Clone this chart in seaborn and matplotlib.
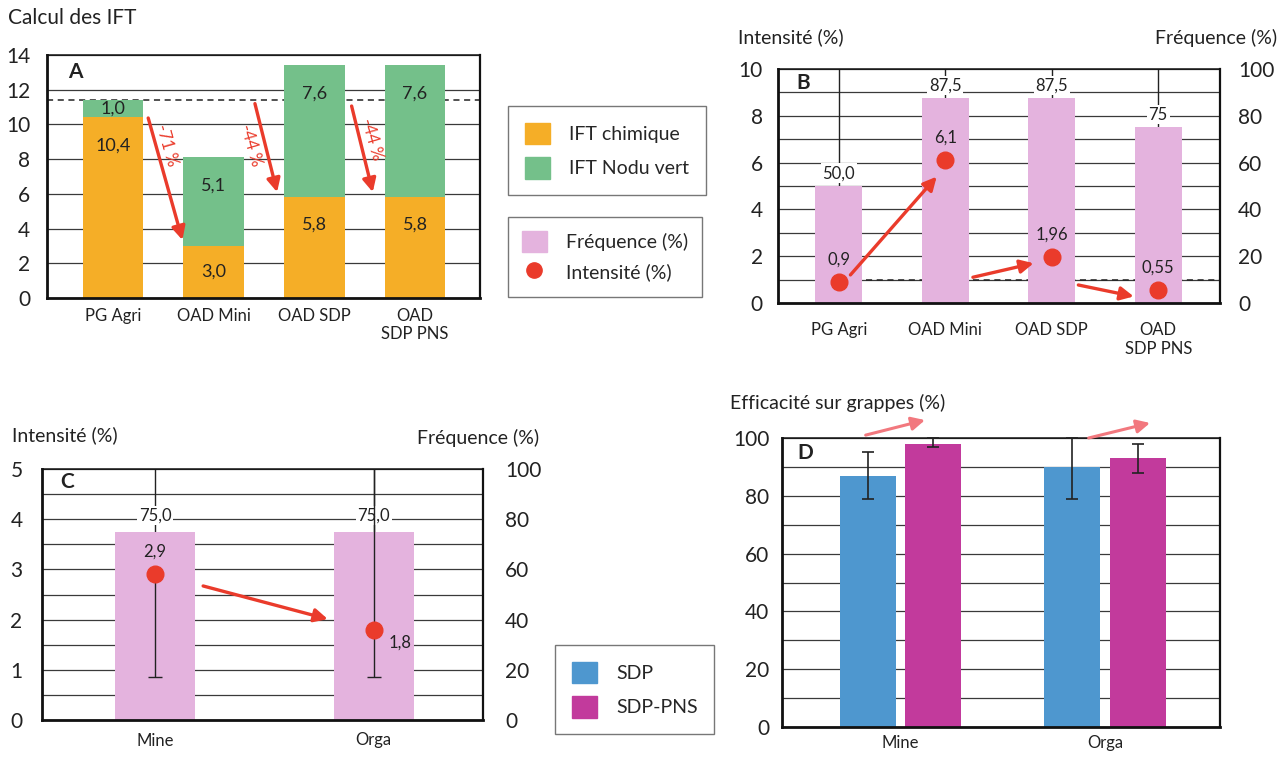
import numpy as np
import pandas as pd
import matplotlib
matplotlib.use('Agg')
import matplotlib.pyplot as plt
from matplotlib.patches import Patch
from matplotlib.lines import Line2D
import seaborn as sns

# ---- data ----
# A: calcul des IFT
a_cats = ['PG Agri', 'OAD Mini', 'OAD SDP', 'OAD\nSDP PNS']
a_chimique = [10.4, 3.0, 5.8, 5.8]
a_nodu = [1.0, 5.1, 7.6, 7.6]
a_ref = 11.4
a_drops = ['-71 %', '-44 %', '-44 %']

# B: frequence / intensite par OAD
b_cats = a_cats
b_freq = [50.0, 87.5, 87.5, 75.0]
b_freq_labels = ['50,0', '87,5', '87,5', '75']
b_freq_hi = [100, 100, 100, 100]
b_int = [0.9, 6.1, 1.96, 0.55]
b_int_labels = ['0,9', '6,1', '1,96', '0,55']
b_ref = 1.0

# C: Mine / Orga
c_cats = ['Mine', 'Orga']
c_freq = [75.0, 75.0]
c_freq_labels = ['75,0', '75,0']
c_int = [2.9, 1.8]
c_int_labels = ['2,9', '1,8']
c_int_lo = [0.85, 0.85]
c_int_hi = [5.0, 5.0]

# D: efficacite sur grappes
d_cats = ['Mine', 'Orga']
d_series = ['SDP', 'SDP-PNS']
d_sdp = [87, 90]
d_pns = [98, 93]
d_sdp_lo = [79, 79]
d_sdp_hi = [95, 100]
d_pns_lo = [97, 88]
d_pns_hi = [100, 98]

ORANGE = '#F5AE27'
GREEN = '#74C08A'
PINK = '#E4B3DE'
RED = '#EA3B2B'
BLUE = '#4E97CF'
MAGENTA = '#C23A9C'
SOFTRED = '#F2787E'
GRID = '#3a3a3a'
INK = '#222222'

sns.set_theme(style='white')
plt.rcParams['font.family'] = ['Lato', 'DejaVu Sans']

W, H = 1288, 758
fig = plt.figure(figsize=(W / 100, H / 100), dpi=100)
fig.patch.set_facecolor('white')


def pos(l, t, r, b):
    return [l / W, 1 - b / H, (r - l) / W, (b - t) / H]


def style_box(ax):
    for s in ax.spines.values():
        s.set_visible(True)
        s.set_color('#111111')
    ax.spines['left'].set_linewidth(2.0)
    ax.spines['bottom'].set_linewidth(2.0)
    ax.spines['top'].set_linewidth(1.1)
    ax.spines['right'].set_linewidth(1.6)
    ax.tick_params(length=0, colors=INK)
    ax.set_xlabel('')
    ax.set_ylabel('')


def arrow(ax, start, end, color=RED, lw=2.4):
    ax.annotate('', xy=end, xytext=start, annotation_clip=False,
                arrowprops=dict(arrowstyle='-|>', color=color, lw=lw,
                                mutation_scale=20, shrinkA=0, shrinkB=0))


def vline_label(ax, x, y, s, size=12):
    ax.text(x, y, s, ha='center', va='center', fontsize=size, color=INK, zorder=5,
            bbox=dict(facecolor='white', edgecolor='none', pad=1.2))


def dual_axes(ax, right_pad, left_pad):
    # bars stay on ax (right scale), intensity goes on a twin drawn on top (left scale)
    axi = ax.twinx()
    ax.yaxis.tick_right()
    axi.yaxis.tick_left()
    ax.tick_params(axis='y', which='both', labelsize=15, pad=right_pad, length=0,
                   labelleft=False, labelright=True, colors=INK)
    axi.tick_params(axis='y', length=0, labelsize=15, pad=left_pad, colors=INK,
                    labelleft=True, labelright=False)
    for s in axi.spines.values():
        s.set_visible(False)
    axi.grid(False)
    return axi


# ---------- A ----------
axA = fig.add_axes(pos(47, 55, 480, 298))
a_total = [c + n for c, n in zip(a_chimique, a_nodu)]
sns.barplot(x=a_cats, y=a_total, color=GREEN, saturation=1, width=0.6, linewidth=0, ax=axA)
sns.barplot(x=a_cats, y=a_chimique, color=ORANGE, saturation=1, width=0.6, linewidth=0, ax=axA)
axA.set_xlim(-0.655, 3.645)
axA.set_ylim(0, 14)
axA.set_yticks(range(0, 15, 2))
axA.grid(axis='y', color=GRID, lw=0.9)
axA.set_axisbelow(True)
axA.axhline(a_ref, ls=(0, (4, 3)), color=INK, lw=1.1, zorder=0.8)
style_box(axA)
axA.tick_params(axis='y', labelsize=15, pad=12)
axA.tick_params(axis='x', labelsize=12, pad=7)
for i in range(len(a_cats)):
    for base, seg in [(0, a_chimique[i]), (a_chimique[i], a_nodu[i])]:
        y = base + seg - min(1.6, seg / 2)
        axA.text(i, y, f'{seg:.1f}'.replace('.', ','), ha='center', va='center',
                 fontsize=13, color=INK)
axA.text(0.065, 0.93, 'A', transform=axA.transAxes, fontsize=15, fontweight='bold',
         ha='center', va='center', color=INK)
a_arrows = [((0.35, 10.37), (0.69, 3.34)), ((1.41, 11.2), (1.63, 6.1)), ((2.37, 11.06), (2.58, 6.1))]
a_txt = [(0.53, 8.8), (1.37, 8.8), (2.57, 9.15)]
for (s, e), (tx, ty), lab in zip(a_arrows, a_txt, a_drops):
    arrow(axA, s, e)
    axA.text(tx, ty, lab, rotation=-74, ha='center', va='center', fontsize=12, color=RED)
fig.text(8 / W, 1 - 18 / H, 'Calcul des IFT', fontsize=15, color=INK, ha='left', va='center')

# ---------- B ----------
axB = fig.add_axes(pos(778, 69, 1220, 303))
sns.barplot(x=b_cats, y=b_freq, color=PINK, saturation=1, width=0.44, linewidth=0, ax=axB)
axB.set_xlim(-0.57, 3.58)
axB.set_ylim(0, 100)
axB.set_yticks(range(0, 101, 20))
axB.set_yticks(range(10, 100, 20), minor=True)
axB.grid(axis='y', which='both', color=GRID, lw=0.9)
axB.set_axisbelow(True)
axB.axhline(b_ref * 10, xmin=0.2, ls=(0, (4, 3)), color=INK, lw=1.1, zorder=0.8)
for i in range(len(b_cats)):
    axB.vlines(i, b_freq[i], b_freq_hi[i], color=INK, lw=1.0, zorder=0.9)
    vline_label(axB, i, b_freq[i] + 5.5, b_freq_labels[i])
style_box(axB)
axB.tick_params(axis='x', labelsize=12, pad=14)
axBi = dual_axes(axB, 13, 11)
axBi.set_ylim(0, 10)
axBi.set_yticks(range(0, 11, 2))
axBi.plot(range(len(b_cats)), b_int, 'o', color=RED, ms=12, ls='none', zorder=4)
for i in range(len(b_cats)):
    axBi.text(i, b_int[i] + 0.95, b_int_labels[i], ha='center', va='center', fontsize=12, color=INK)
b_arrows = [((0.11, 1.2), (0.92, 5.4)), ((1.26, 1.1), (1.83, 1.7)), ((2.25, 0.77), (2.77, 0.28))]
for s, e in b_arrows:
    arrow(axBi, s, e)
axBi.text(0.057, 0.94, 'B', transform=axBi.transAxes, fontsize=15, fontweight='bold',
          ha='center', va='center', color=INK)
fig.text(738 / W, 1 - 37 / H, 'Intensité (%)', fontsize=14, color=INK, ha='left', va='center')
fig.text(1277 / W, 1 - 38 / H, 'Fréquence (%)', fontsize=14, color=INK, ha='right', va='center')

# ---------- C ----------
axC = fig.add_axes(pos(42, 469, 483, 720))
sns.barplot(x=c_cats, y=c_freq, color=PINK, saturation=1, width=0.366, linewidth=0, ax=axC)
axC.set_xlim(-0.517, 1.50)
axC.set_ylim(0, 100)
axC.set_yticks(range(0, 101, 20))
axC.set_yticks(range(10, 100, 20), minor=True)
axC.grid(axis='y', which='both', color=GRID, lw=0.9)
axC.set_axisbelow(True)
for i in range(len(c_cats)):
    axC.vlines(i, c_int[i] * 20, c_int_hi[i] * 20, color=INK, lw=1.0, zorder=0.9)
    vline_label(axC, i, 81.6, c_freq_labels[i])
style_box(axC)
axC.tick_params(axis='x', labelsize=12, pad=9)
axCi = dual_axes(axC, 16, 14)
axCi.set_ylim(0, 5)
axCi.set_yticks(range(0, 6))
c_hi_front = [False, True]
for i in range(len(c_cats)):
    axCi.errorbar(i, c_int[i], yerr=[[c_int[i] - c_int_lo[i]], [0]], color=INK,
                  lw=1.0, capsize=5, capthick=1.0, fmt='none', zorder=3)
    if c_hi_front[i]:
        axCi.vlines(i, c_int[i], c_int_hi[i], color=INK, lw=1.0, zorder=3)
axCi.plot(range(len(c_cats)), c_int, 'o', color=RED, ms=12, ls='none', zorder=4)
axCi.text(0, c_int[0] + 0.45, c_int_labels[0], ha='center', va='center', fontsize=12, color=INK)
axCi.text(1.12, c_int[1] - 0.25, c_int_labels[1], ha='center', va='center', fontsize=12, color=INK)
arrow(axCi, (0.22, 2.67), (0.79, 2.01))
axCi.text(0.057, 0.948, 'C', transform=axCi.transAxes, fontsize=15, fontweight='bold',
          ha='center', va='center', color=INK)
fig.text(12 / W, 1 - 435 / H, 'Intensité (%)', fontsize=14, color=INK, ha='left', va='center')
fig.text(539 / W, 1 - 438 / H, 'Fréquence (%)', fontsize=14, color=INK, ha='right', va='center')

# ---------- D ----------
axD = fig.add_axes(pos(782, 438, 1220, 727))
d_df = pd.DataFrame({
    'site': d_cats * 2,
    'variete': [d_series[0]] * len(d_cats) + [d_series[1]] * len(d_cats),
    'eff': d_sdp + d_pns,
})
sns.barplot(data=d_df, x='site', y='eff', hue='variete', palette=[BLUE, MAGENTA],
            saturation=1, width=0.64, gap=0.14, linewidth=0, legend=False, ax=axD)
axD.set_xlim(-0.579, 1.562)
axD.set_ylim(0, 100)
axD.set_yticks(range(0, 101, 20))
axD.set_yticks(range(10, 100, 20), minor=True)
axD.grid(axis='y', which='both', color=GRID, lw=0.9)
axD.set_axisbelow(True)
style_box(axD)
axD.tick_params(axis='y', which='both', labelsize=15, pad=9, length=0)
axD.tick_params(axis='x', labelsize=12, pad=6)
for cont, vals, lo, hi in zip(axD.containers, [d_sdp, d_pns], [d_sdp_lo, d_pns_lo], [d_sdp_hi, d_pns_hi]):
    xs = [b.get_x() + b.get_width() / 2 for b in cont]
    yerr = [[v - l for v, l in zip(vals, lo)], [h - v for v, h in zip(vals, hi)]]
    axD.errorbar(xs, vals, yerr=yerr, fmt='none', color=INK, lw=1.2, capsize=4,
                 capthick=1.2, zorder=3, clip_on=False)
arrow(axD, (-0.17, 101), (0.12, 106.2), color=SOFTRED, lw=2.2)
arrow(axD, (0.92, 100), (1.22, 105.2), color=SOFTRED, lw=2.2)
axD.text(0.053, 0.948, 'D', transform=axD.transAxes, fontsize=15, fontweight='bold',
         ha='center', va='center', color=INK)
fig.text(730 / W, 1 - 403 / H, 'Efficacité sur grappes (%)', fontsize=14, color=INK,
         ha='left', va='center')

# ---------- legends ----------
leg_kw = dict(loc='upper left', frameon=True, fancybox=False, fontsize=14,
              edgecolor='#555555', borderaxespad=0, handlelength=1.3, handleheight=1.35,
              handletextpad=1.0, labelspacing=0.65, borderpad=0.85)
l1 = fig.legend([Patch(color=ORANGE), Patch(color=GREEN)], ['IFT chimique', 'IFT Nodu vert'],
                bbox_to_anchor=(508 / W, 1 - 106 / H), **leg_kw)
l2 = fig.legend([Patch(color=PINK),
                 Line2D([], [], marker='o', color=RED, ls='none', ms=11)],
                ['Fréquence (%)', 'Intensité (%)'],
                bbox_to_anchor=(508 / W, 1 - 217 / H), **dict(leg_kw, labelspacing=0.45, borderpad=0.7))
l3 = fig.legend([Patch(color=BLUE), Patch(color=MAGENTA)], d_series,
                bbox_to_anchor=(555 / W, 1 - 645 / H), **leg_kw)
for lg in (l1, l2, l3):
    lg.get_frame().set_linewidth(1.0)

fig.savefig('out.png', dpi=100, facecolor='white')
